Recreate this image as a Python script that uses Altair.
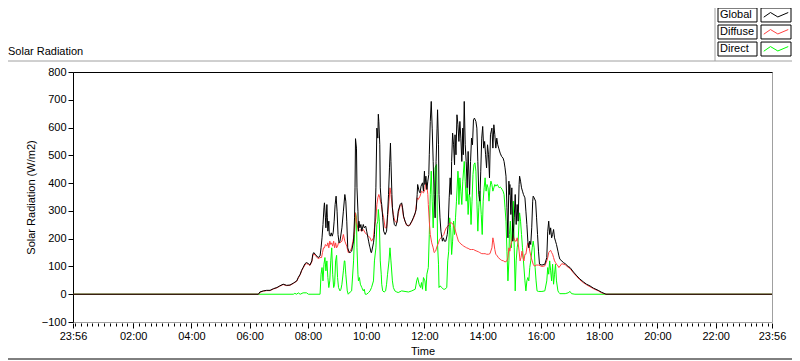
import json
import altair as alt
import pandas as pd

FONT = "Liberation Sans"

# ---------------- data (minutes after midnight, W/m2) ----------------
series_names = ["Global", "Diffuse", "Direct"]
series_colors = ["#000000", "#ff4040", "#00ff00"]

x_tick_values = [-4, 120, 240, 360, 480, 600, 720, 840, 960, 1080, 1200, 1320, 1436]
x_tick_labels = ["23:56", "02:00", "04:00", "06:00", "08:00", "10:00", "12:00",
                 "14:00", "16:00", "18:00", "20:00", "22:00", "23:56"]
minor_tick_values = list(range(0, 1436, 12))
y_tick_values = [-100, 0, 100, 200, 300, 400, 500, 600, 700, 800]

GLOBAL = [
    (-4, 0), (378, 0), (381, 8), (388, 12), (395, 14), (402, 14), (409, 20), (416, 24),
    (422, 30), (429, 36), (436, 32), (443, 33), (450, 40), (457, 48), (460, 60), (464, 72),
    (467, 86), (470, 96), (474, 110), (477, 114), (481, 110), (484, 105), (488, 120),
    (490, 144), (492, 150), (495, 144), (498, 138), (501, 132), (505, 138), (507, 167),
    (509, 203), (511, 251), (513, 311), (514, 329), (516, 275), (517, 239), (519, 323),
    (520, 275), (521, 227), (523, 263), (524, 215), (526, 209), (528, 221), (530, 209),
    (532, 221), (534, 263), (536, 323), (538, 353), (540, 299), (542, 215), (544, 185),
    (546, 191), (550, 239), (553, 299), (556, 359), (558, 335), (560, 263), (562, 167),
    (565, 150), (567, 150), (570, 155), (574, 191), (576, 275), (577, 383), (578, 560),
    (580, 526), (581, 383), (583, 299), (584, 227), (585, 263), (587, 239), (589, 251),
    (591, 227), (594, 251), (596, 239), (599, 245), (601, 227), (605, 191), (607, 173),
    (608, 167), (610, 150), (611, 150), (615, 185), (617, 215), (618, 263), (620, 383),
    (622, 598), (624, 562), (625, 648), (626, 622), (628, 538), (629, 383), (631, 335),
    (632, 323), (634, 275), (636, 227), (639, 215), (642, 227), (644, 287), (646, 359),
    (648, 455), (650, 544), (651, 478), (653, 359), (654, 311), (656, 275), (658, 251),
    (661, 245), (664, 263), (666, 299), (670, 323), (673, 329), (675, 311), (677, 281),
    (680, 263), (683, 251), (687, 245), (690, 251), (694, 263), (697, 275), (701, 293),
    (703, 305), (705, 359), (706, 395), (709, 371), (711, 365), (713, 389), (716, 401),
    (718, 371), (720, 443), (721, 395), (723, 425), (725, 377), (727, 407), (729, 431),
    (730, 502), (732, 622), (734, 694), (736, 598), (738, 478), (740, 359), (742, 275),
    (744, 478), (746, 598), (747, 664), (749, 538), (750, 359), (752, 275), (754, 227),
    (757, 191), (759, 203), (761, 191), (764, 191), (767, 215), (769, 251), (771, 347),
    (773, 419), (775, 359), (776, 478), (778, 580), (780, 538), (782, 466), (783, 574),
    (785, 502), (787, 646), (789, 610), (791, 550), (793, 622), (795, 562), (797, 478),
    (799, 598), (800, 502), (802, 694), (804, 538), (806, 478), (808, 383), (810, 514),
    (813, 359), (815, 478), (817, 562), (819, 538), (821, 628), (823, 634), (826, 622),
    (828, 598), (830, 478), (832, 359), (834, 335), (836, 443), (838, 562), (840, 604),
    (842, 526), (844, 550), (846, 502), (848, 455), (850, 538), (852, 502), (854, 419),
    (856, 574), (859, 598), (861, 526), (863, 610), (865, 574), (867, 526), (869, 562),
    (871, 538), (873, 526), (876, 508), (879, 496), (882, 490), (884, 478), (886, 455),
    (888, 425), (890, 311), (892, 203), (894, 407), (895, 359), (896, 395), (898, 287),
    (900, 383), (902, 191), (905, 275), (907, 359), (909, 251), (911, 323), (913, 263),
    (915, 395), (916, 425), (918, 407), (920, 383), (922, 371), (924, 359), (927, 347),
    (929, 299), (931, 251), (933, 191), (935, 167), (937, 191), (939, 179), (941, 239),
    (943, 335), (944, 353), (946, 347), (949, 335), (951, 275), (953, 215), (955, 155),
    (957, 108), (962, 105), (968, 108), (972, 132), (974, 227), (976, 263), (978, 215),
    (980, 239), (982, 203), (984, 215), (986, 233), (988, 203), (990, 191), (992, 179),
    (995, 155), (997, 138), (999, 126), (1003, 120), (1006, 114), (1010, 110), (1016, 100),
    (1020, 96), (1027, 80), (1034, 66), (1040, 55), (1047, 45), (1054, 36), (1061, 30),
    (1068, 22), (1078, 14), (1085, 7), (1094, 0), (1436, 0),
]

DIFFUSE = [
    (-4, 0), (378, 0), (381, 7), (388, 11), (395, 13), (402, 13), (409, 19), (416, 23),
    (422, 29), (429, 35), (436, 31), (443, 32), (450, 39), (457, 47), (460, 58), (464, 70),
    (467, 84), (470, 94), (474, 106), (477, 110), (481, 108), (484, 103), (488, 116),
    (490, 138), (492, 146), (495, 140), (498, 134), (501, 128), (505, 132), (508, 132),
    (510, 150), (512, 167), (514, 167), (516, 179), (519, 173), (521, 185), (523, 167),
    (525, 191), (527, 179), (529, 185), (531, 173), (533, 191), (535, 167), (537, 185),
    (539, 167), (541, 173), (543, 185), (546, 185), (550, 191), (553, 215), (556, 191),
    (560, 173), (563, 150), (567, 155), (570, 167), (574, 203), (576, 227), (577, 275),
    (578, 293), (580, 263), (584, 227), (587, 233), (591, 227), (594, 233), (598, 221),
    (601, 215), (605, 209), (608, 203), (611, 191), (615, 203), (617, 239), (620, 275),
    (622, 323), (624, 347), (626, 359), (628, 347), (631, 323), (633, 299), (636, 275),
    (639, 239), (642, 239), (644, 275), (647, 335), (649, 383), (651, 359), (654, 311),
    (656, 287), (659, 263), (663, 257), (666, 290), (670, 320), (673, 325), (677, 278),
    (683, 248), (690, 248), (697, 272), (701, 290), (705, 347), (707, 341), (711, 353),
    (714, 371), (718, 365), (721, 377), (723, 401), (725, 389), (727, 359), (728, 323),
    (730, 263), (732, 215), (735, 185), (738, 167), (740, 150), (743, 155), (746, 173),
    (749, 185), (751, 197), (754, 203), (757, 209), (760, 215), (762, 227), (765, 239),
    (768, 245), (771, 251), (773, 257), (776, 257), (779, 251), (782, 239), (784, 227),
    (787, 209), (790, 191), (793, 185), (795, 181), (798, 177), (801, 173), (804, 170),
    (807, 167), (810, 165), (814, 161), (817, 161), (821, 161), (824, 158), (828, 155),
    (831, 153), (834, 150), (838, 146), (841, 146), (845, 146), (848, 144), (852, 144),
    (855, 146), (859, 167), (861, 203), (863, 185), (865, 161), (867, 144), (870, 138),
    (872, 132), (876, 126), (879, 122), (883, 120), (886, 116), (890, 120), (892, 132),
    (894, 167), (896, 155), (898, 179), (900, 191), (902, 215), (904, 203), (907, 191),
    (909, 191), (911, 203), (913, 185), (915, 155), (917, 120), (919, 132), (921, 155),
    (923, 132), (925, 120), (927, 144), (929, 144), (931, 167), (933, 185), (935, 179),
    (937, 155), (940, 132), (942, 120), (944, 108), (946, 102), (948, 102), (950, 105),
    (955, 105), (962, 100), (968, 102), (972, 120), (974, 132), (976, 150), (978, 155),
    (980, 158), (982, 150), (984, 144), (986, 132), (988, 120), (990, 114), (992, 108),
    (995, 102), (997, 96), (1003, 110), (1010, 106), (1016, 97), (1020, 92), (1027, 77),
    (1034, 63), (1040, 52), (1047, 42), (1054, 34), (1061, 27), (1068, 20), (1078, 12),
    (1085, 5), (1094, 0), (1436, 0),
]

DIRECT = [
    (-4, 0), (378, 0), (450, 0), (453, 3), (457, 0), (460, 5), (464, 0), (470, 5), (477, 5),
    (481, 0), (505, 0), (507, 72), (509, 96), (511, 48), (513, 108), (515, 132), (517, 84),
    (519, 120), (521, 60), (523, 24), (525, 48), (527, 120), (529, 167), (531, 72),
    (533, 24), (535, 36), (537, 120), (539, 140), (541, 60), (543, 24), (546, 12), (548, 18),
    (550, 36), (553, 84), (555, 120), (556, 120), (558, 72), (561, 12), (563, 0), (567, 8),
    (570, 12), (574, 120), (576, 215), (578, 293), (580, 275), (581, 167), (583, 72),
    (584, 48), (586, 60), (588, 36), (591, 24), (594, 12), (596, 18), (598, 0), (601, 0),
    (605, 6), (608, 12), (611, 24), (615, 48), (617, 120), (620, 167), (622, 251),
    (624, 263), (625, 305), (627, 263), (629, 120), (631, 72), (632, 36), (634, 12),
    (637, 8), (640, 12), (642, 36), (644, 72), (647, 120), (649, 167), (651, 120), (654, 48),
    (656, 24), (659, 12), (663, 8), (666, 6), (673, 12), (680, 10), (687, 8), (694, 12),
    (701, 18), (704, 48), (706, 60), (709, 36), (712, 24), (714, 42), (716, 18), (718, 60),
    (721, 48), (723, 12), (725, 72), (728, 96), (730, 215), (732, 359), (734, 443),
    (736, 335), (738, 239), (740, 359), (742, 455), (745, 467), (746, 359), (747, 179),
    (749, 108), (750, 24), (752, 30), (756, 24), (759, 18), (762, 18), (766, 24), (768, 120),
    (770, 155), (772, 275), (774, 239), (776, 143), (778, 191), (780, 263), (782, 215),
    (784, 275), (786, 335), (789, 443), (790, 419), (791, 323), (793, 419), (795, 371),
    (797, 323), (799, 407), (802, 478), (804, 407), (806, 335), (808, 383), (810, 287),
    (812, 359), (814, 347), (816, 251), (818, 335), (820, 431), (822, 467), (824, 473),
    (826, 443), (828, 335), (830, 227), (832, 311), (834, 371), (837, 287), (839, 215),
    (841, 335), (843, 383), (845, 419), (847, 371), (849, 395), (851, 383), (853, 335),
    (855, 383), (857, 407), (859, 395), (861, 371), (863, 383), (865, 395), (867, 389),
    (870, 395), (872, 389), (874, 383), (876, 386), (878, 383), (880, 377), (882, 371),
    (884, 359), (886, 311), (888, 263), (890, 155), (892, 48), (894, 120), (895, 215),
    (897, 263), (899, 167), (901, 239), (903, 335), (905, 167), (907, 12), (909, 120),
    (911, 167), (913, 191), (915, 263), (916, 293), (918, 263), (920, 215), (922, 167),
    (924, 120), (927, 48), (929, 12), (931, 48), (933, 60), (935, 48), (937, 96), (939, 120),
    (942, 167), (944, 191), (946, 167), (948, 96), (950, 48), (952, 12), (955, 10),
    (962, 10), (968, 12), (972, 48), (974, 96), (976, 72), (978, 120), (980, 84), (982, 48),
    (984, 108), (986, 36), (988, 72), (990, 108), (992, 48), (995, 12), (997, 6), (999, 2),
    (1010, 2), (1016, 5), (1020, 10), (1023, 2), (1030, 0), (1436, 0),
]

# ---------------- helpers ----------------
def frame(rows):
    return pd.DataFrame(rows, columns=["minute", "value"])

x_scale = alt.Scale(domain=[-4, 1436], nice=False, zero=False)
y_scale = alt.Scale(domain=[-100, 800], nice=False, zero=False)

label_expr = "{}[indexof({}, datum.value)]".format(
    json.dumps(x_tick_labels), json.dumps(x_tick_values))

# minor ticks on the bottom (drawn with the Direct layer)
direct_layer = alt.Chart(frame(DIRECT)).mark_line(color=series_colors[2], strokeWidth=1).encode(
    x=alt.X("minute:Q", scale=x_scale,
            axis=alt.Axis(orient="bottom", values=minor_tick_values, labels=False,
                          tickSize=3, offset=1, domain=False, title=None, grid=False,
                          tickColor="black")),
    y=alt.Y("value:Q", scale=y_scale, axis=None),
)

# black top frame line (drawn with the Diffuse layer)
diffuse_layer = alt.Chart(frame(DIFFUSE)).mark_line(color=series_colors[1], strokeWidth=1).encode(
    x=alt.X("minute:Q", scale=x_scale,
            axis=alt.Axis(orient="top", labels=False, ticks=False, domain=True,
                          domainColor="black", title=None, grid=False)),
    y=alt.Y("value:Q", scale=y_scale, axis=None),
)

global_layer = alt.Chart(frame(GLOBAL)).mark_line(color=series_colors[0], strokeWidth=1).encode(
    x=alt.X("minute:Q", scale=x_scale,
            axis=alt.Axis(orient="bottom", values=x_tick_values, labelExpr=label_expr,
                          tickSize=5, offset=1, domain=False, labelPadding=2,
                          labelFlush=False, labelOverlap=False, title="Time",
                          titlePadding=4, grid=False)),
    y=alt.Y("value:Q", scale=y_scale,
            axis=alt.Axis(values=y_tick_values, tickSize=5, labelPadding=2,
                          title="Solar Radiation (W/m2)", titlePadding=5, grid=False,
                          domainColor="black")),
)

main = alt.layer(direct_layer, diffuse_layer, global_layer).resolve_axis(
    x="independent", y="independent")

# ---------------- legend (boxed labels + line samples) ----------------
legend_df = pd.DataFrame({"series": series_names})
legend_y = alt.Y("series:N", sort=series_names,
                 scale=alt.Scale(domain=series_names, range=[-64, -16],
                                 paddingInner=0.18, paddingOuter=0),
                 axis=None)
legend_color = alt.Color("series:N", scale=alt.Scale(domain=series_names, range=series_colors),
                         legend=None)

label_box = alt.Chart(legend_df).mark_rect(fill="white", stroke="black", strokeWidth=1).encode(
    x=alt.value(645), x2=alt.value(684), y=legend_y)
label_text = alt.Chart(legend_df).mark_text(align="left", baseline="middle", font=FONT,
                                            fontSize=11, color="black").encode(
    x=alt.value(647), y=legend_y, text="series:N")
sample_box = alt.Chart(legend_df).mark_rect(fill="white", stroke="black", strokeWidth=1).encode(
    x=alt.value(688), x2=alt.value(718), y=legend_y)
zigzag = "M-1,0.18L-0.45,-0.2L0.15,0.16L1,-0.2"
sample_line = alt.Chart(legend_df).mark_point(shape=zigzag, filled=False, size=600,
                                              strokeWidth=1, opacity=1).encode(
    x=alt.value(703), y=legend_y, color=legend_color)

legend = alt.layer(label_box, label_text, sample_box, sample_line)

# ---------------- panel title and frame ----------------
title_df = pd.DataFrame({"label": ["Solar Radiation"]})
title_txt = alt.Chart(title_df).mark_text(align="left", baseline="alphabetic", font=FONT,
                                          fontSize=11, color="black").encode(
    x=alt.value(-65), y=alt.value(-17), text="label:N")

one = pd.DataFrame({"k": [0]})
frame_top = alt.Chart(one).mark_rule(color="#a0a0a0", strokeWidth=1).encode(
    x=alt.value(-65), x2=alt.value(719), y=alt.value(-11))
frame_leg = alt.Chart(one).mark_rule(color="#a0a0a0", strokeWidth=1).encode(
    x=alt.value(642), y=alt.value(-64), y2=alt.value(-11))
frame_bottom = alt.Chart(one).mark_rule(color="black", strokeWidth=1).encode(
    x=alt.value(-65), x2=alt.value(719), y=alt.value(287))

chart = alt.layer(
    main, legend, title_txt, frame_top, frame_leg, frame_bottom
).resolve_scale(y="independent").properties(
    width=699, height=250,
    padding={"left": 65, "top": 64, "right": 20, "bottom": 38},
    autosize=alt.AutoSizeParams(type="none"),
    background="white",
).configure_view(
    stroke="#a0a0a0", strokeWidth=1
).configure_axis(
    labelFont=FONT, titleFont=FONT, labelFontSize=11, titleFontSize=11,
    labelColor="black", titleColor="black", titleFontWeight="normal",
    tickColor="black", domainColor="black", grid=False,
)

chart.save("out.html", embed_options={"renderer": "svg", "actions": False})
